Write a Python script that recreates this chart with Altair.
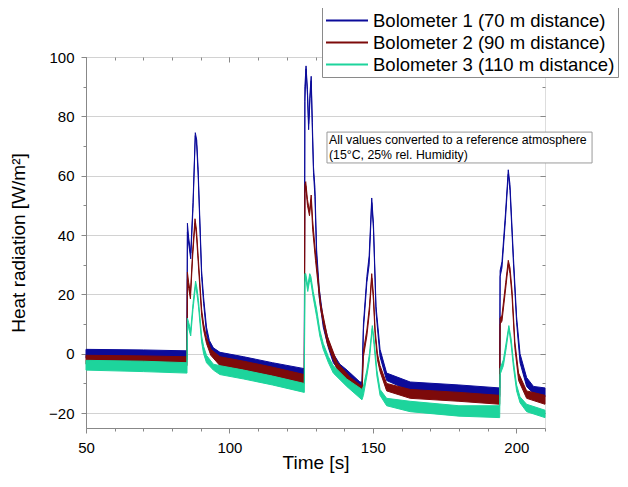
import altair as alt
import pandas as pd

series_names = ["Bolometer 1 (70 m distance)", "Bolometer 2 (90 m distance)", "Bolometer 3 (110 m distance)"]
colors = ["#0b0b9a", "#7d0a0a", "#1dd49c"]

# Bolometer 1 (noise band: lower / upper edge)
b1_t = [50, 70, 85.2, 85.35, 85.8, 86.5, 87.3, 88.1, 88.6, 89.1, 90.3, 91.0, 92.0, 93.0, 94.4, 96.7, 105, 115,
        126.1, 126.3, 126.7, 127.2, 127.6, 128.1, 128.5, 128.9, 129.3, 129.8, 130.4, 131.3, 132.7, 134.5, 136.2,
        138.5, 141, 145.5, 146.2, 146.7, 147.9, 148.7, 149.6, 150.2, 151.1, 152.5, 154.8, 163, 180, 194.2,
        194.35, 195.0, 196.2, 197.2, 197.8, 199.0, 200.1, 201.3, 203.6, 206, 210]
b1_lo = [-1.5, -1.7, -2.0, 41, 37, 32, 49, 73.5, 70, 60, 26, 17, 7, 2.5, -0.5, -2.5, -4, -6,
         -8.5, 85, 96, 87, 75.5, 86, 92, 75, 61, 53, 32, 19, 9, 2, -3,
         -6, -8.5, -12.5, -12.5, 8, 24, 30, 51, 42, 14, -1, -9, -12.5, -13.5, -14.5,
         26, 29, 45, 60.5, 55, 30.5, 10.5, -3, -11, -13.5, -14.5]
b1_hi = [1.5, 1.3, 1.0, 44, 39, 34, 51, 74.5, 72, 62, 28, 19, 9, 4.5, 2, 0.5, -1, -3,
         -5, 90, 97, 89, 77.5, 88, 93.5, 78, 63, 56, 35, 22, 11.5, 4.5, 0,
         -3.5, -5.5, -9.5, -9.5, 10, 26, 33, 52.5, 44, 16, 1.5, -6.5, -9.5, -10.5, -11.5,
         28, 31, 47, 62, 57, 32.5, 12.5, 0, -8, -11, -11.5]

# Bolometer 2
b2_t = [50, 70, 85.2, 85.35, 85.8, 86.4, 87.2, 88.0, 88.5, 89.1, 90.3, 91.0, 92.0, 93.5, 96.7, 105, 115,
        126.1, 126.3, 126.6, 127.2, 127.9, 128.5, 129.0, 130.0, 131.8, 134.1, 137.6, 142.2, 146.2,
        146.7, 147.9, 148.8, 149.6, 150.2, 150.8, 151.6, 152.5, 154.8, 163, 180, 194.2,
        194.35, 195.0, 196.3, 197.2, 197.8, 198.5, 199.5, 200.8, 203.6, 210]
b2_lo = [-3.5, -3.7, -4, 25, 22, 18.5, 33, 44, 40, 31, 13, 8, 3.5, -0.5, -4, -5.5, -7.5,
         -10, 54, 56.5, 50, 46.5, 52, 42, 31.5, 15, 3.5, -5.5, -11, -14,
         -1, 6, 14, 25.5, 18, 6, -2, -6, -12.5, -15, -16, -17,
         10, 11, 22, 30, 27, 19.5, 2, -9, -15, -17]
b2_hi = [-0.5, -0.7, -1, 27.5, 24, 20.5, 35, 45.5, 42, 33, 15, 10, 5.5, 1.5, -1, -2.5, -4.5,
         -7, 57, 58, 52, 48, 53.5, 45, 34, 17, 6, -3, -8, -11,
         1, 8, 16, 27, 20, 8, 0, -4, -10, -12, -13, -14,
         12, 13, 24, 31.5, 29, 21.5, 4, -6.5, -12.5, -14]

# Bolometer 3
b3_t = [50, 70, 85.2, 85.35, 85.8, 86.5, 87.3, 88.2, 88.7, 89.2, 90.3, 91.0, 92.0, 94.4, 96.7, 105, 115,
        126.1, 126.3, 126.6, 127.3, 128.0, 128.4, 129.2, 130.4, 131.5, 132.7, 134.5, 136.2, 140.9, 146.2,
        146.7, 147.9, 148.8, 149.8, 150.4, 151.4, 152.5, 154.8, 163, 180, 194.2,
        194.35, 195.5, 196.5, 197.4, 198.2, 199.0, 200.1, 201.3, 203.6, 210]
b3_lo = [-5.5, -6, -6.5, 9, 8.5, 6, 15, 23, 20, 16, 4, 0, -3, -5.5, -7, -8.5, -10.5,
         -13, 24, 25.5, 21, 25, 24, 19, 12.5, 6, 1.5, -3, -6.5, -11, -15.5,
         -14, -7.5, -2, 8.5, 3, -7.5, -14, -17.5, -19.5, -21, -21.5,
         -7, -4, 2, 8.5, 3, -4.5, -12.5, -16.5, -19.5, -21.5]
b3_hi = [-2.2, -2.5, -3, 12, 10.5, 8, 17, 24.5, 22, 18, 6, 2.5, -0.5, -3.5, -4, -5.5, -7.5,
         -10, 27, 27, 23, 27, 26, 21, 15, 8, 3.5, -1, -4, -8.5, -12,
         -11, -5.5, 0, 9.5, 5, -5.5, -12, -15, -16, -17.5, -17.5,
         -5, -2, 4, 9.5, 5, -2.5, -10.5, -14.5, -17, -19]

note_lines = ["All values converted to a reference atmosphere", "(15°C, 25% rel. Humidity)"]

frames = []
for name, t, lo, hi in zip(series_names, [b1_t, b2_t, b3_t], [b1_lo, b2_lo, b3_lo], [b1_hi, b2_hi, b3_hi]):
    frames.append(pd.DataFrame({"series": name, "t": t, "lo": lo, "hi": hi}))
df = pd.concat(frames, ignore_index=True)

W, H = 459, 371
FONT = "Liberation Sans"
xs = alt.Scale(domain=[50, 210], nice=False, zero=False)
ys = alt.Scale(domain=[-25, 100], nice=False, zero=False)
stroke_scale = alt.Scale(domain=series_names, range=colors)

legend = alt.Legend(title=None, orient="none", legendX=236, legendY=-51,
                    symbolType="M-1,0H3", symbolSize=441, symbolStrokeWidth=2,
                    symbolFillColor="transparent",
                    labelFont=FONT, labelFontSize=18.5, labelLimit=400, labelColor="black",
                    labelOffset=25, fillColor="white", strokeColor="#8a8a8a",
                    padding=3, rowPadding=1)

main_x = alt.Axis(orient="bottom", values=[50, 100, 150, 200], title="Time [s]",
                  titleFontSize=19, titleFontWeight="normal", titleBaseline="alphabetic",
                  titleY=40, labelFontSize=15, labelPadding=7, labelFlush=False,
                  tickSize=5, grid=False)
main_y = alt.Axis(orient="left", values=[-20, 0, 20, 40, 60, 80, 100], title="Heat radiation [W/m²]",
                  titleFontSize=19, titleFontWeight="normal", titlePadding=20,
                  labelFontSize=15, labelPadding=7, labelFlush=False,
                  tickSize=5, grid=True, gridColor="#d2d2d2", gridWidth=1)

minor_x_vals = list(range(50, 211, 10))
minor_y_vals = list(range(-20, 101, 10))
major_x_vals = [50, 100, 150, 200]
major_y_vals = [-20, 0, 20, 40, 60, 80, 100]


def plain_axis(orient, values, size, offset=0):
    return alt.Axis(orient=orient, values=values, tickSize=size, labels=False, domain=False,
                    grid=False, title=None, offset=offset)


def band(i):
    first = i == 0
    return alt.Chart(df).transform_filter(alt.datum.series == series_names[i]).mark_area(
        fill=colors[i], fillOpacity=1, strokeWidth=1
    ).encode(
        x=alt.X("t:Q", scale=xs, axis=main_x if first else None),
        y=alt.Y("lo:Q", scale=ys, axis=main_y if first else None),
        y2="hi:Q",
        stroke=alt.Stroke("series:N", scale=stroke_scale, legend=legend),
    )


def axis_layer(ax_x, ax_y):
    return alt.Chart(df).mark_point(opacity=0).encode(
        x=alt.X("t:Q", scale=xs, axis=ax_x),
        y=alt.Y("lo:Q", scale=ys, axis=ax_y),
    )


one = pd.DataFrame({"k": [0]})
note_box = alt.Chart(one).mark_rect(fill="white", stroke="#9a9a9a", strokeWidth=1).encode(
    x=alt.X(datum=134.0, scale=xs, axis=None), x2=alt.X2(datum=226.4),
    y=alt.Y(datum=74.7, scale=ys, axis=None), y2=alt.Y2(datum=64.3),
)
note_text = alt.Chart(one).mark_text(
    text=note_lines, align="left", baseline="top", font=FONT, fontSize=12.3,
    lineHeight=14.5, color="black"
).encode(
    x=alt.X(datum=134.7, scale=xs, axis=None),
    y=alt.Y(datum=74.0, scale=ys, axis=None),
)

chart = alt.layer(
    band(0), band(1), band(2),
    axis_layer(plain_axis("bottom", minor_x_vals, 3), plain_axis("left", minor_y_vals, 3)),
    axis_layer(plain_axis("bottom", major_x_vals, 5, -H), plain_axis("left", major_y_vals, 5, -W)),
    axis_layer(plain_axis("bottom", minor_x_vals, 3, -H), plain_axis("left", minor_y_vals, 3, -W)),
    note_box, note_text,
).resolve_axis(x="independent", y="independent").properties(
    width=W, height=H,
    autosize=alt.AutoSizeParams(type="none"),
    padding={"left": 78, "top": 49, "right": 75, "bottom": 46},
).configure_view(stroke="black", strokeWidth=1).configure_axis(
    labelFont=FONT, titleFont=FONT, titleFontWeight="normal", labelColor="black",
    titleColor="black", tickColor="black", domainColor="black", tickWidth=1, domainWidth=1
).configure(background="white")

chart.save("out.html", embed_options={"renderer": "svg", "actions": False})
